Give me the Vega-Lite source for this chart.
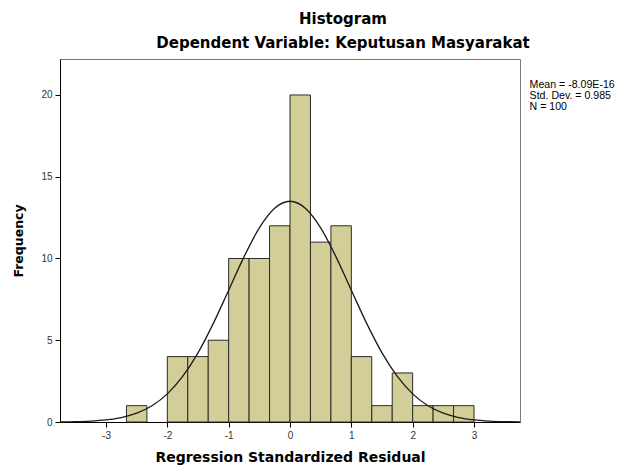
{
  "$schema": "https://vega.github.io/schema/vega-lite/v6.json",
  "width": 460,
  "height": 363,
  "autosize": {"type": "none"},
  "padding": {"left": 60, "top": 59, "right": 104, "bottom": 46},
  "background": "#ffffff",
  "config": {
    "font": "Liberation Sans",
    "view": {"fill": "#f0f0f0", "stroke": "#7a7a7a", "strokeWidth": 1},
    "axis": {
      "domainColor": "#000000",
      "tickColor": "#000000",
      "tickSize": 5,
      "labelFont": "Liberation Sans",
      "labelFontSize": 10,
      "labelColor": "#333333",
      "titleFont": "DejaVu Sans",
      "titleFontWeight": "bold",
      "titleColor": "#000000",
      "grid": false
    }
  },
  "title": {
    "text": "Histogram",
    "subtitle": "Dependent Variable: Keputusan Masyarakat",
    "font": "DejaVu Sans",
    "fontSize": 15,
    "fontWeight": "bold",
    "color": "#000000",
    "subtitleFont": "DejaVu Sans",
    "subtitleFontSize": 15,
    "subtitleFontWeight": "bold",
    "subtitleColor": "#000000",
    "subtitlePadding": 9,
    "anchor": "middle",
    "dx": 53,
    "offset": 8
  },
  "layer": [
    {
      "data": {"values": [
        {"bin_start": -2.6667, "bin_end": -2.3333, "count": 1},
        {"bin_start": -2.0, "bin_end": -1.6667, "count": 4},
        {"bin_start": -1.6667, "bin_end": -1.3333, "count": 4},
        {"bin_start": -1.3333, "bin_end": -1.0, "count": 5},
        {"bin_start": -1.0, "bin_end": -0.6667, "count": 10},
        {"bin_start": -0.6667, "bin_end": -0.3333, "count": 10},
        {"bin_start": -0.3333, "bin_end": 0.0, "count": 12},
        {"bin_start": 0.0, "bin_end": 0.3333, "count": 20},
        {"bin_start": 0.3333, "bin_end": 0.6667, "count": 11},
        {"bin_start": 0.6667, "bin_end": 1.0, "count": 12},
        {"bin_start": 1.0, "bin_end": 1.3333, "count": 4},
        {"bin_start": 1.3333, "bin_end": 1.6667, "count": 1},
        {"bin_start": 1.6667, "bin_end": 2.0, "count": 3},
        {"bin_start": 2.0, "bin_end": 2.3333, "count": 1},
        {"bin_start": 2.3333, "bin_end": 2.6667, "count": 1},
        {"bin_start": 2.6667, "bin_end": 3.0, "count": 1}
      ]},
      "mark": {"type": "rect", "fill": "#d3ce97", "stroke": "#2b2b2b", "strokeWidth": 1},
      "encoding": {
        "x": {
          "field": "bin_start", "type": "quantitative",
          "scale": {"domain": [-3.75, 3.75], "nice": false, "zero": false},
          "axis": {"values": [-3, -2, -1, 0, 1, 2, 3], "labelExpr": "datum.value + ''", "title": "Regression Standardized Residual", "titleFontSize": 14, "titlePadding": 10, "labelPadding": 3}
        },
        "x2": {"field": "bin_end"},
        "y": {
          "field": "count", "type": "quantitative",
          "scale": {"domain": [0, 22.2], "nice": false},
          "axis": {"values": [0, 5, 10, 15, 20], "title": "Frequency", "titleFontSize": 12.5, "titlePadding": 15, "labelPadding": 3}
        },
        "y2": {"datum": 0}
      }
    },
    {
      "data": {"values": [
        {"x": -3.75, "density": 0.0096},
        {"x": -3.5, "density": 0.0245},
        {"x": -3.25, "density": 0.0585},
        {"x": -3.0, "density": 0.131},
        {"x": -2.75, "density": 0.274},
        {"x": -2.5, "density": 0.539},
        {"x": -2.25, "density": 0.994},
        {"x": -2.0, "density": 1.72},
        {"x": -1.75, "density": 2.79},
        {"x": -1.5, "density": 4.23},
        {"x": -1.25, "density": 6.03},
        {"x": -1.0, "density": 8.06},
        {"x": -0.75, "density": 10.10},
        {"x": -0.5, "density": 11.87},
        {"x": -0.25, "density": 13.07},
        {"x": 0.0, "density": 13.50},
        {"x": 0.25, "density": 13.07},
        {"x": 0.5, "density": 11.87},
        {"x": 0.75, "density": 10.10},
        {"x": 1.0, "density": 8.06},
        {"x": 1.25, "density": 6.03},
        {"x": 1.5, "density": 4.23},
        {"x": 1.75, "density": 2.79},
        {"x": 2.0, "density": 1.72},
        {"x": 2.25, "density": 0.994},
        {"x": 2.5, "density": 0.539},
        {"x": 2.75, "density": 0.274},
        {"x": 3.0, "density": 0.131},
        {"x": 3.25, "density": 0.0585},
        {"x": 3.5, "density": 0.0245},
        {"x": 3.75, "density": 0.0096}
      ]},
      "mark": {"type": "line", "color": "#1a1a1a", "strokeWidth": 1.3, "interpolate": "monotone"},
      "encoding": {
        "x": {"field": "x", "type": "quantitative"},
        "y": {"field": "density", "type": "quantitative"}
      }
    },
    {
      "data": {"values": [
        {"stat": "Mean = -8.09E-16"},
        {"stat": "Std. Dev. = 0.985"},
        {"stat": "N = 100"}
      ]},
      "mark": {"type": "point", "opacity": 0},
      "encoding": {
        "color": {
          "field": "stat", "type": "nominal",
          "scale": {"domain": ["Mean = -8.09E-16", "Std. Dev. = 0.985", "N = 100"], "range": ["#000000", "#000000", "#000000"]},
          "legend": {
            "title": null,
            "orient": "none",
            "legendX": 459,
            "legendY": 21,
            "padding": 0,
            "symbolSize": 0,
            "symbolOpacity": 0,
            "symbolStrokeWidth": 0,
            "labelOffset": 0,
            "labelFont": "Liberation Sans",
            "labelFontSize": 10.6,
            "labelColor": "#000000",
            "rowPadding": -2,
            "labelLimit": 200
          }
        }
      }
    }
  ]
}
